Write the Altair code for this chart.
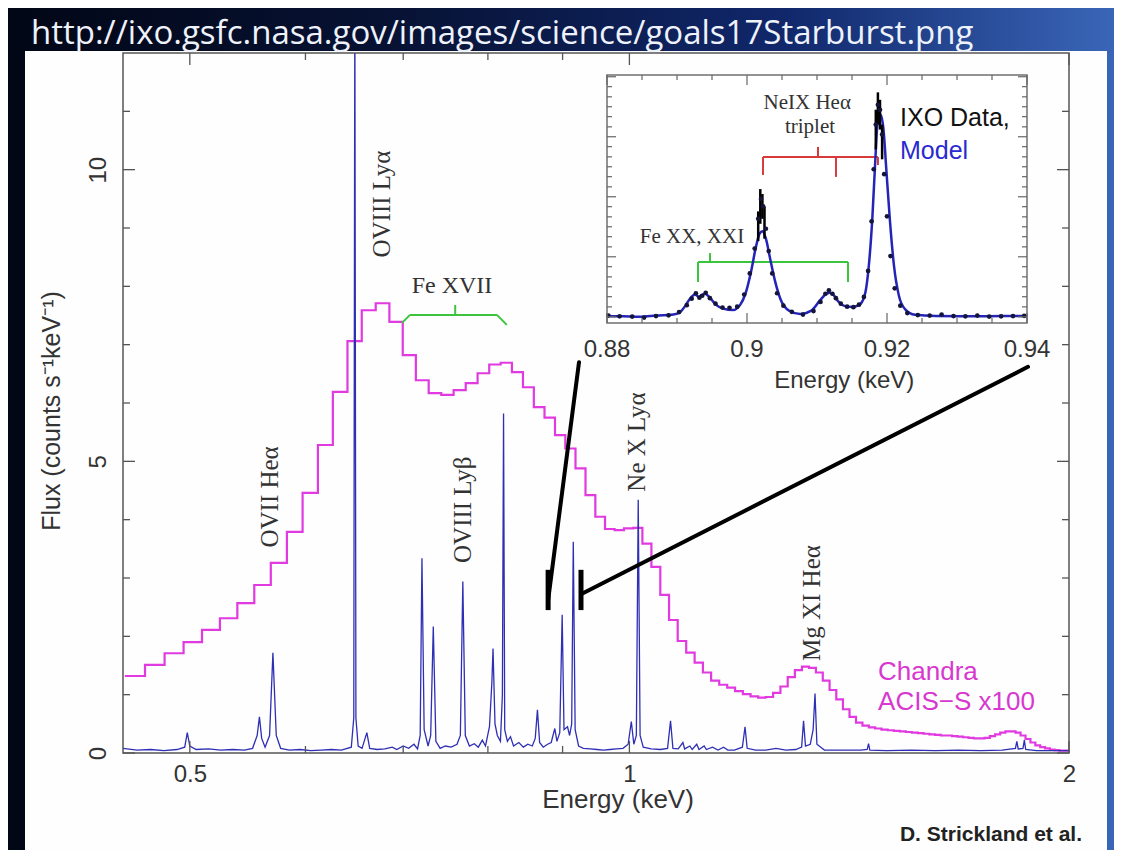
import altair as alt
import pandas as pd

# ---------------- texts ----------------
url_text = "http://ixo.gsfc.nasa.gov/images/science/goals17Starburst.png"
credit_text = "D. Strickland et al."
y_title = "Flux (counts s\u207b\u00b9keV\u207b\u00b9)"
x_title = "Energy (keV)"

# ---------------- main panel data ----------------
# Chandra ACIS-S (x100) binned spectrum: first bin edge, bin width (keV), flux per bin
chandra_first_edge = 0.4513
chandra_bin_width = 0.0146
chandra_flux = [
    1.32, 1.51, 1.71, 1.90, 2.11, 2.31, 2.57, 2.88, 3.26, 3.79,
    4.46, 5.28, 6.19, 7.06, 7.59, 7.71, 7.39, 6.82, 6.39, 6.17,
    6.14, 6.22, 6.34, 6.51, 6.66, 6.69, 6.53, 6.27, 5.93, 5.75,
    5.45, 5.22, 4.88, 4.42, 4.05, 3.84, 3.82, 3.85, 3.86, 3.59,
    3.19, 2.71, 2.28, 1.92, 1.72, 1.55, 1.38, 1.24, 1.17, 1.12,
    1.06, 1.01, 0.97, 0.95, 0.96, 1.03, 1.14, 1.30, 1.42, 1.48,
    1.46, 1.38, 1.24, 1.08, 0.92, 0.75, 0.62, 0.52, 0.47, 0.44,
    0.42, 0.40, 0.39, 0.38, 0.37, 0.36, 0.35, 0.34, 0.33, 0.32,
    0.31, 0.30, 0.30, 0.29, 0.28, 0.27, 0.26, 0.25, 0.25, 0.26,
    0.29, 0.32, 0.35, 0.37, 0.37, 0.35, 0.30, 0.24, 0.18, 0.13,
    0.10, 0.08, 0.06, 0.05, 0.04, 0.04,
]

# IXO high resolution spectrum: (energy keV, flux)
ixo_spectrum = [
    (0.450, 0.08), (0.460, 0.05), (0.470, 0.06), (0.480, 0.04), (0.490, 0.06),
    (0.496, 0.10), (0.498, 0.35), (0.500, 0.12), (0.505, 0.06), (0.515, 0.07),
    (0.525, 0.05), (0.535, 0.06), (0.545, 0.05), (0.552, 0.08), (0.556, 0.30),
    (0.558, 0.62), (0.560, 0.25), (0.563, 0.10), (0.567, 0.30), (0.570, 1.72),
    (0.573, 0.30), (0.577, 0.08), (0.585, 0.05), (0.595, 0.06), (0.605, 0.04),
    (0.615, 0.05), (0.625, 0.06), (0.635, 0.05), (0.645, 0.10), (0.6475, 0.60),
    (0.6486, 13.0), (0.6497, 0.60), (0.652, 0.12), (0.656, 0.08), (0.661, 0.35),
    (0.664, 0.08), (0.672, 0.06), (0.680, 0.07), (0.688, 0.10), (0.693, 0.06),
    (0.700, 0.12), (0.706, 0.08), (0.712, 0.15), (0.716, 0.07), (0.719, 0.30),
    (0.721, 3.34), (0.7235, 0.40), (0.728, 0.12), (0.731, 0.30), (0.734, 2.17),
    (0.737, 0.20), (0.742, 0.08), (0.748, 0.12), (0.755, 0.10), (0.762, 0.15),
    (0.766, 0.30), (0.769, 2.94), (0.772, 0.30), (0.777, 0.12), (0.783, 0.16),
    (0.788, 0.10), (0.793, 0.22), (0.797, 0.12), (0.802, 0.45), (0.805, 1.20),
    (0.8065, 1.79), (0.809, 0.50), (0.812, 0.30), (0.816, 0.20), (0.8185, 1.00),
    (0.820, 5.82), (0.8215, 0.40), (0.825, 0.20), (0.829, 0.28), (0.833, 0.12),
    (0.840, 0.18), (0.846, 0.10), (0.852, 0.15), (0.858, 0.12), (0.862, 0.25),
    (0.865, 0.74), (0.868, 0.18), (0.873, 0.10), (0.879, 0.15), (0.884, 0.18),
    (0.889, 0.42), (0.892, 0.20), (0.896, 0.35), (0.8994, 2.37), (0.902, 0.40),
    (0.907, 0.45), (0.910, 0.30), (0.913, 0.50), (0.9153, 3.62), (0.918, 0.40),
    (0.923, 0.12), (0.930, 0.08), (0.940, 0.07), (0.950, 0.06), (0.960, 0.05),
    (0.970, 0.06), (0.980, 0.07), (0.990, 0.08), (0.998, 0.15), (1.003, 0.54),
    (1.007, 0.15), (1.011, 0.30), (1.014, 4.34), (1.017, 0.30), (1.022, 0.10),
    (1.035, 0.07), (1.050, 0.06), (1.062, 0.08), (1.067, 0.55), (1.071, 0.08),
    (1.080, 0.07), (1.088, 0.18), (1.091, 0.07), (1.100, 0.12), (1.104, 0.06),
    (1.112, 0.15), (1.116, 0.06), (1.125, 0.12), (1.129, 0.06), (1.140, 0.10),
    (1.150, 0.05), (1.160, 0.10), (1.168, 0.05), (1.180, 0.05), (1.195, 0.10),
    (1.200, 0.45), (1.204, 0.08), (1.220, 0.05), (1.240, 0.05), (1.260, 0.08),
    (1.280, 0.05), (1.300, 0.06), (1.312, 0.10), (1.316, 0.55), (1.320, 0.12),
    (1.330, 0.15), (1.336, 0.40), (1.340, 1.02), (1.344, 0.15), (1.360, 0.05),
    (1.400, 0.05), (1.440, 0.05), (1.455, 0.06), (1.458, 0.16), (1.461, 0.05),
    (1.500, 0.04), (1.560, 0.05), (1.620, 0.04), (1.680, 0.05), (1.740, 0.04),
    (1.800, 0.05), (1.838, 0.08), (1.842, 0.20), (1.846, 0.07), (1.860, 0.08),
    (1.864, 0.22), (1.868, 0.06), (1.900, 0.04), (1.950, 0.04), (2.000, 0.04),
]

x_tick_labels = [0.5, 1, 2]
x_minor_ticks = [0.6, 0.7, 0.8, 0.9]
y_tick_labels = [0, 5, 10]
y_minor_ticks = [1, 2, 3, 4, 6, 7, 8, 9, 11]

# line identifications: label, energy, flux (position of label centre)
rot_labels = ["OVII He\u03b1", "OVIII Ly\u03b1", "OVIII Ly\u03b2", "Ne X Ly\u03b1", "Mg XI He\u03b1"]
rot_label_E = [0.5674, 0.677, 0.769, 1.012, 1.334]
rot_label_F = [4.39, 9.41, 4.17, 5.33, 2.57]

# ---------------- inset data ----------------
inset_model_E = [0.8800, 0.8823, 0.8847, 0.8871, 0.8895, 0.8905, 0.8912, 0.8919, 0.8926, 0.8931,
                 0.8935, 0.8940, 0.8946, 0.8955, 0.8966, 0.8980, 0.8990, 0.8998, 0.9006, 0.9013,
                 0.9018, 0.9022, 0.9027, 0.9033, 0.9040, 0.9048, 0.9060, 0.9076, 0.9092, 0.9104,
                 0.9112, 0.9118, 0.9124, 0.9131, 0.9140, 0.9150, 0.9160, 0.9168, 0.9174, 0.9179,
                 0.9183, 0.9187, 0.9191, 0.9195, 0.9199, 0.9204, 0.9210, 0.9217, 0.9226, 0.9240,
                 0.9270, 0.9320, 0.9370, 0.9400]
inset_model_F = [0.028, 0.027, 0.025, 0.030, 0.034, 0.045, 0.070, 0.100, 0.115, 0.105,
                 0.112, 0.118, 0.105, 0.075, 0.058, 0.052, 0.072, 0.120, 0.210, 0.310,
                 0.360, 0.370, 0.340, 0.260, 0.170, 0.095, 0.050, 0.036, 0.050, 0.090,
                 0.115, 0.122, 0.112, 0.085, 0.068, 0.065, 0.072, 0.110, 0.230, 0.420,
                 0.640, 0.820, 0.840, 0.780, 0.620, 0.420, 0.230, 0.110, 0.055, 0.033,
                 0.028, 0.027, 0.028, 0.028]
inset_data_E = [0.8802, 0.8818, 0.8836, 0.8853, 0.8870, 0.8888, 0.8903, 0.8914, 0.8921, 0.8927,
                0.8932, 0.8936, 0.8941, 0.8947, 0.8955, 0.8965, 0.8975, 0.8986, 0.8996, 0.9004,
                0.9011, 0.9016, 0.9020, 0.9023, 0.9027, 0.9031, 0.9036, 0.9043, 0.9052, 0.9064,
                0.9080, 0.9095, 0.9105, 0.9112, 0.9117, 0.9122, 0.9127, 0.9134, 0.9143, 0.9152,
                0.9160, 0.9167, 0.9173, 0.9178, 0.9181, 0.9184, 0.9187, 0.9190, 0.9193, 0.9196,
                0.9200, 0.9205, 0.9211, 0.9219, 0.9229, 0.9244, 0.9261, 0.9278, 0.9295, 0.9312,
                0.9329, 0.9346, 0.9363, 0.9380, 0.9396]
inset_data_F = [0.030, 0.027, 0.026, 0.022, 0.028, 0.031, 0.044, 0.072, 0.098, 0.120,
                0.102, 0.110, 0.122, 0.100, 0.078, 0.062, 0.061, 0.066, 0.115, 0.200,
                0.300, 0.420, 0.500, 0.470, 0.380, 0.290, 0.200, 0.120, 0.070, 0.045,
                0.034, 0.048, 0.085, 0.118, 0.132, 0.118, 0.100, 0.078, 0.066, 0.064,
                0.074, 0.105, 0.210, 0.410, 0.620, 0.800, 0.880, 0.860, 0.760, 0.600,
                0.430, 0.270, 0.140, 0.070, 0.040, 0.032, 0.030, 0.034, 0.028, 0.027,
                0.030, 0.026, 0.027, 0.028, 0.029]
inset_err_E = [0.9016, 0.9019, 0.9022, 0.9025, 0.9184, 0.9187, 0.9190, 0.9193]
inset_err_lo = [0.33, 0.40, 0.42, 0.34, 0.70, 0.80, 0.78, 0.66]
inset_err_hi = [0.45, 0.54, 0.52, 0.47, 0.86, 0.93, 0.90, 0.80]

inset_x_ticks = [0.88, 0.90, 0.92, 0.94]
inset_x_minor = [0.885, 0.89, 0.895, 0.905, 0.91, 0.915, 0.925, 0.93, 0.935]
inset_y_major = [0.025, 0.267, 0.509, 0.751, 0.993]
inset_y_minor = [0.065, 0.106, 0.146, 0.186, 0.227, 0.307, 0.348, 0.388, 0.428, 0.469,
                 0.549, 0.590, 0.630, 0.670, 0.711, 0.791, 0.832, 0.872, 0.912, 0.953]

# ---------------- styling / layout ----------------
W, H = 946, 700
SANS = "Liberation Sans"
SERIF = "Liberation Serif"
TICK = "#555555"
MAGENTA = "#e03ae0"
BLUE = "#2f2fb5"
GREEN = "#3cc43c"
RED = "#d83a3a"

one = pd.DataFrame({"k": [0]})

XS = alt.Scale(type="log", domain=[0.45, 2.0], nice=False)
YS = alt.Scale(domain=[0, 12], nice=False, zero=False)
XAX = alt.Axis(values=x_tick_labels, format="~g", labelFont=SANS, labelFontSize=24,
               labelColor="#333333", labelPadding=9, labelFlush=False, labelOverlap=False,
               ticks=False, domain=False, grid=False, title=None, zindex=2)
YAX = alt.Axis(values=y_tick_labels, format="d", labelFont=SANS, labelFontSize=24,
               labelColor="#333333", labelAngle=270, labelAlign="center",
               labelBaseline="alphabetic", labelPadding=18, labelOverlap=False,
               ticks=False, domain=False, grid=False, title=None, zindex=2)


def mx(f):
    return alt.X(f, type="quantitative", scale=XS, axis=XAX)


def my(f):
    return alt.Y(f, type="quantitative", scale=YS, axis=YAX)


IXS = alt.Scale(domain=[0.88, 0.94], range=[484, 904], nice=False, zero=False)
IYS = alt.Scale(domain=[0, 1], range=[270, 22], nice=False, zero=False)


def ix(f):
    return alt.X(f, type="quantitative", scale=IXS, axis=None)


def iy(f):
    return alt.Y(f, type="quantitative", scale=IYS, axis=None)


# ---------------- main layers ----------------
grad = alt.Gradient(
    gradient="linear",
    stops=[alt.GradientStop(color="#020716", offset=0),
           alt.GradientStop(color="#071234", offset=0.35),
           alt.GradientStop(color="#10276a", offset=0.7),
           alt.GradientStop(color="#3a66b8", offset=1)],
    x1=0, x2=1, y1=0, y2=0)

bg = alt.Chart(one).mark_rect(color=grad).encode(
    x=alt.value(-115), x2=alt.value(991), y=alt.value(-45), y2=alt.value(797))
panel = alt.Chart(one).mark_rect(color="#fefefe").encode(
    x=alt.value(-98), x2=alt.value(984), y=alt.value(-2), y2=alt.value(797))
url = alt.Chart(one).mark_text(text=url_text, font="Open Sans", fontSize=33, color="#eef2fa",
                               align="left", baseline="alphabetic").encode(
    x=alt.value(-92), y=alt.value(-9))

edges = [chandra_first_edge + k * chandra_bin_width for k in range(len(chandra_flux) + 1)]
chandra_df = pd.DataFrame({"E": edges, "F": chandra_flux + [chandra_flux[-1]]})
chandra = alt.Chart(chandra_df).mark_line(interpolate="step-after", color=MAGENTA,
                                          strokeWidth=2.2).encode(x=mx("E"), y=my("F"))

ixo_df = pd.DataFrame(ixo_spectrum, columns=["E", "F"])
ixo = alt.Chart(ixo_df).mark_line(clip=True, color=BLUE, strokeWidth=1.3).encode(
    x=mx("E"), y=my("F"))

frame = alt.Chart(one).mark_rect(fillOpacity=0, stroke=TICK, strokeWidth=1.5).encode(
    x=alt.value(0), x2=alt.value(W), y=alt.value(0), y2=alt.value(H))


def xticks(vals, ln):
    d = pd.DataFrame({"E": vals})
    return [alt.Chart(d).mark_rule(color=TICK, strokeWidth=1.3).encode(
                x=mx("E"), y=alt.value(H), y2=alt.value(H - ln)),
            alt.Chart(d).mark_rule(color=TICK, strokeWidth=1.3).encode(
                x=mx("E"), y=alt.value(0), y2=alt.value(ln))]


def yticks(vals, ln):
    d = pd.DataFrame({"F": vals})
    return [alt.Chart(d).mark_rule(color=TICK, strokeWidth=1.3).encode(
                y=my("F"), x=alt.value(0), x2=alt.value(ln)),
            alt.Chart(d).mark_rule(color=TICK, strokeWidth=1.3).encode(
                y=my("F"), x=alt.value(W), x2=alt.value(W - ln))]


ticks = xticks(x_tick_labels, 12) + xticks(x_minor_ticks, 7) + yticks(y_tick_labels, 12) + yticks(y_minor_ticks, 7)

rot_df = pd.DataFrame({"E": rot_label_E, "F": rot_label_F, "t": rot_labels})
rot = alt.Chart(rot_df).mark_text(angle=270, font=SERIF, fontSize=25, color="#333333",
                                  align="center", baseline="middle").encode(
    x=mx("E"), y=my("F"), text="t:N")

fe_df = pd.DataFrame({"E": [0.756], "F": [8.01], "t": ["Fe XVII"]})
fe = alt.Chart(fe_df).mark_text(font=SERIF, fontSize=24, color="#333333",
                                align="center", baseline="middle").encode(
    x=mx("E"), y=my("F"), text="t:N")

fe_bracket = pd.DataFrame({"x": [0.7075, 0.6985, 0.8115, 0.7598],
                           "x2": [0.8115, 0.7075, 0.8242, 0.7598],
                           "y": [7.51, 7.37, 7.51, 7.51],
                           "y2": [7.51, 7.51, 7.34, 7.68]})
fe_br = alt.Chart(fe_bracket).mark_rule(color=GREEN, strokeWidth=2).encode(
    x=mx("x"), x2="x2", y=my("y"), y2="y2")

pointer = pd.DataFrame({"x": [0.9236, 1.8748], "x2": [0.8797, 0.9293],
                        "y": [6.70, 6.62], "y2": [2.62, 2.74]})
pointer_l = alt.Chart(pointer).mark_rule(color="black", strokeWidth=4, strokeCap="round").encode(
    x=mx("x"), x2="x2", y=my("y"), y2="y2")
bars = pd.DataFrame({"x": [0.8797, 0.9265], "y": [2.45, 2.45], "y2": [3.14, 3.14]})
bars_l = alt.Chart(bars).mark_rule(color="black", strokeWidth=5).encode(
    x=mx("x"), y=my("y"), y2="y2")

ch_df = pd.DataFrame({"E": [1.48, 1.48], "F": [1.25, 0.74], "t": ["Chandra", "ACIS\u2212S x100"]})
ch_text = alt.Chart(ch_df).mark_text(font=SANS, fontSize=26, color="#d838d0",
                                     align="left", baseline="alphabetic").encode(
    x=mx("E"), y=my("F"), text="t:N")

ytitle = alt.Chart(one).mark_text(text=y_title, font=SANS, fontSize=25, color="#333333",
                                  angle=270, align="center", baseline="middle").encode(
    x=alt.value(52 - 123), y=alt.value(411 - 53))
xtitle = alt.Chart(one).mark_text(text=x_title, font=SANS, fontSize=26, color="#333333",
                                  align="center", baseline="middle").encode(
    x=alt.value(618 - 123), y=alt.value(800 - 53))
credit = alt.Chart(one).mark_text(text=credit_text, font=SANS, fontSize=21, fontWeight="bold",
                                  color="#222222", align="right", baseline="middle").encode(
    x=alt.value(1082 - 123), y=alt.value(835 - 53))

main = alt.layer(bg, panel, url, chandra, ixo, frame, *ticks, rot, fe, fe_br,
                 pointer_l, bars_l, ch_text, ytitle, xtitle, credit)

# ---------------- inset layers ----------------
inset_bg = alt.Chart(one).mark_rect(color="white").encode(
    x=alt.value(484), x2=alt.value(904), y=alt.value(22), y2=alt.value(270))

red_br = pd.DataFrame({"x": [0.90229, 0.90229, 0.91871, 0.91271, 0.91014],
                       "x2": [0.91871, 0.90229, 0.91871, 0.91271, 0.91014],
                       "y": [0.669, 0.669, 0.669, 0.669, 0.669],
                       "y2": [0.669, 0.597, 0.637, 0.589, 0.710]})
red_l = alt.Chart(red_br).mark_rule(color=RED, strokeWidth=2).encode(
    x=ix("x"), x2="x2", y=iy("y"), y2="y2")
green_br = pd.DataFrame({"x": [0.8930, 0.8930, 0.91443, 0.89471],
                         "x2": [0.91443, 0.8930, 0.91443, 0.89471],
                         "y": [0.246, 0.246, 0.246, 0.246],
                         "y2": [0.246, 0.165, 0.165, 0.282]})
green_l = alt.Chart(green_br).mark_rule(color=GREEN, strokeWidth=2).encode(
    x=ix("x"), x2="x2", y=iy("y"), y2="y2")

model = alt.Chart(pd.DataFrame({"E": inset_model_E, "F": inset_model_F})).mark_line(
    color="#2424b8", strokeWidth=2.5, interpolate="monotone").encode(x=ix("E"), y=iy("F"))
errs = alt.Chart(pd.DataFrame({"E": inset_err_E, "lo": inset_err_lo, "hi": inset_err_hi})).mark_rule(
    color="black", strokeWidth=2.5).encode(x=ix("E"), y=iy("lo"), y2="hi")
dots = alt.Chart(pd.DataFrame({"E": inset_data_E, "F": inset_data_F})).mark_circle(
    size=22, color="#15153a", opacity=1).encode(x=ix("E"), y=iy("F"))

inset_frame = alt.Chart(one).mark_rect(fillOpacity=0, stroke="#707070", strokeWidth=1.5).encode(
    x=alt.value(484), x2=alt.value(904), y=alt.value(22), y2=alt.value(270))


def ixticks(vals, ln):
    d = pd.DataFrame({"E": vals})
    return [alt.Chart(d).mark_rule(color="#666666", strokeWidth=1.2).encode(
                x=ix("E"), y=alt.value(270), y2=alt.value(270 - ln)),
            alt.Chart(d).mark_rule(color="#666666", strokeWidth=1.2).encode(
                x=ix("E"), y=alt.value(22), y2=alt.value(22 + ln))]


def iyticks(vals, ln):
    d = pd.DataFrame({"F": vals})
    return [alt.Chart(d).mark_rule(color="#666666", strokeWidth=1.2).encode(
                y=iy("F"), x=alt.value(484), x2=alt.value(484 + ln)),
            alt.Chart(d).mark_rule(color="#666666", strokeWidth=1.2).encode(
                y=iy("F"), x=alt.value(904), x2=alt.value(904 - ln))]


iticks = ixticks(inset_x_ticks, 10) + ixticks(inset_x_minor, 5) + iyticks(inset_y_major, 9) + iyticks(inset_y_minor, 5)

ilab = alt.Chart(pd.DataFrame({"E": inset_x_ticks, "t": [f"{v:g}" for v in inset_x_ticks]})).mark_text(
    font=SANS, fontSize=24, color="#333333", align="center", baseline="middle").encode(
    x=ix("E"), y=alt.value(297), text="t:N")
ixtitle = alt.Chart(pd.DataFrame({"E": [0.9139], "t": [x_title]})).mark_text(
    font=SANS, fontSize=24, color="#333333", align="center", baseline="middle").encode(
    x=ix("E"), y=alt.value(328), text="t:N")

serif_df = pd.DataFrame({"E": [0.9086, 0.9090, 0.89214], "F": [0.886, 0.790, 0.347],
                         "t": ["NeIX He\u03b1", "triplet", "Fe XX, XXI"]})
serif_t = alt.Chart(serif_df).mark_text(font=SERIF, fontSize=21, color="#333333",
                                        align="center", baseline="middle").encode(
    x=ix("E"), y=iy("F"), text="t:N")
ixo_t = alt.Chart(pd.DataFrame({"E": [0.92186], "F": [0.827], "t": ["IXO Data,"]})).mark_text(
    font=SANS, fontSize=25, color="#111111", align="left", baseline="middle").encode(
    x=ix("E"), y=iy("F"), text="t:N")
model_t = alt.Chart(pd.DataFrame({"E": [0.92186], "F": [0.694], "t": ["Model"]})).mark_text(
    font=SANS, fontSize=25, color="#2a2ad0", align="left", baseline="middle").encode(
    x=ix("E"), y=iy("F"), text="t:N")

inset = alt.layer(inset_bg, red_l, green_l, model, errs, dots, inset_frame, *iticks,
                  ilab, ixtitle, serif_t, ixo_t, model_t)

chart = alt.layer(main, inset).resolve_scale(x="independent", y="independent").properties(
    width=W, height=H,
    padding={"left": 115, "top": 45, "right": 45, "bottom": 97},
    autosize=alt.AutoSizeParams(type="none"),
    background="#ffffff",
).configure_view(stroke=None)

chart.save("out.html", embed_options={"renderer": "svg", "actions": False})
